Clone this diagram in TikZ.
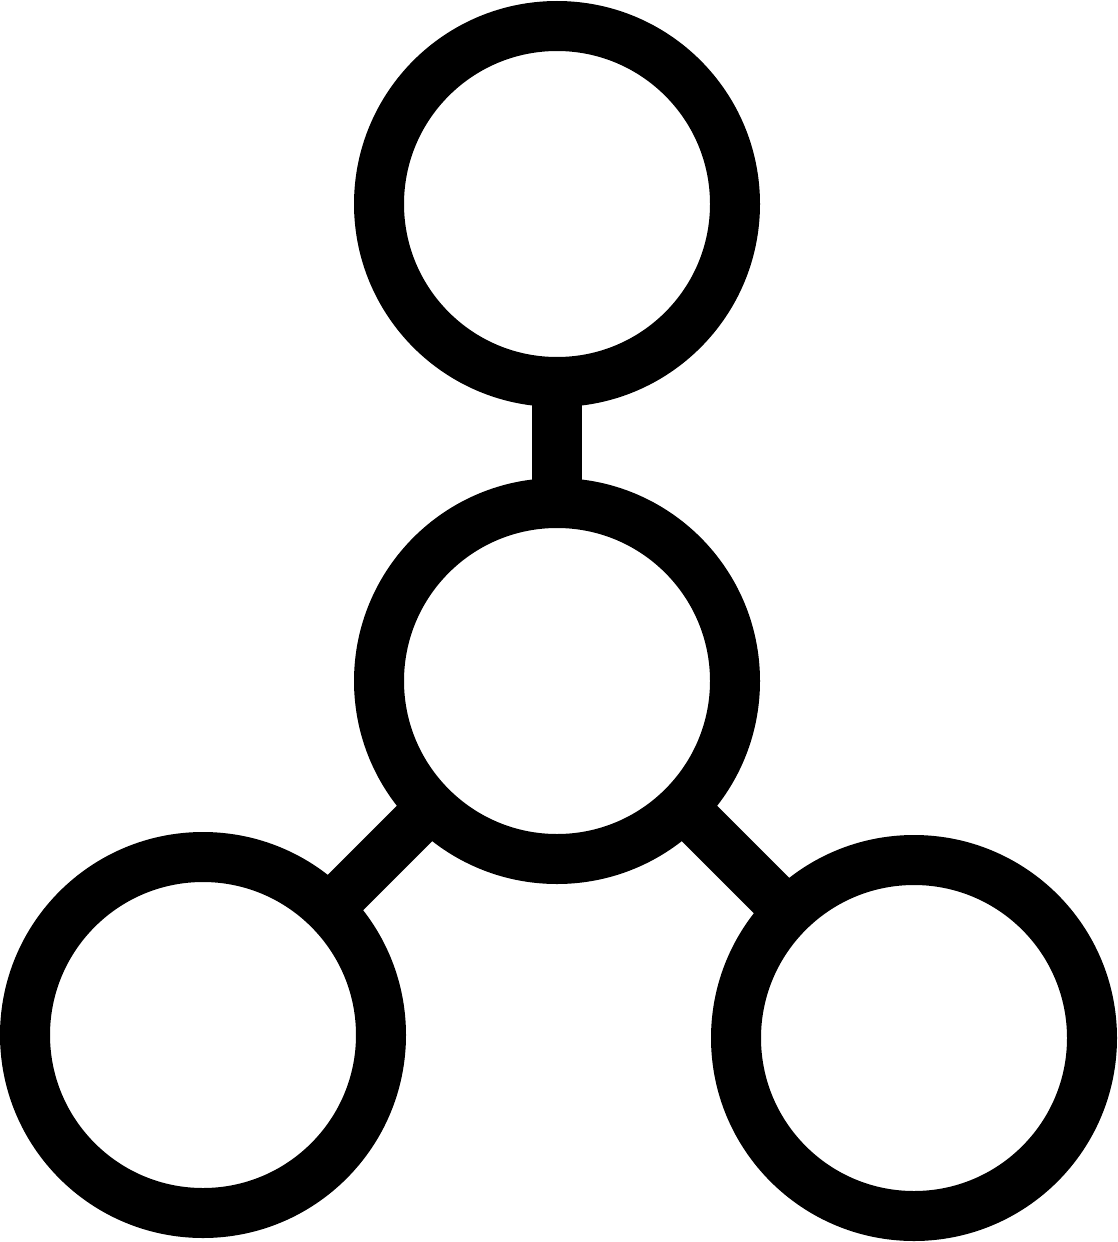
\documentclass[tikz,border=0pt]{standalone}
\usetikzlibrary{backgrounds}
\begin{document}
\begin{tikzpicture}[x=1pt,y=1pt,
  ring/.style={circle,draw=black,fill=white,line width=50pt,minimum size=356pt,inner sep=0pt},
  link/.style={draw=black,line width=50pt}]
\useasboundingbox (0,0) rectangle (1118,-1242);
\node[ring] (top) at (557,-204) {};
\node[ring] (mid) at (557,-681) {};
\node[ring] (bl) at (203,-1035) {};
\node[ring] (br) at (914,-1038) {};
\begin{scope}[on background layer]
\draw[link] (top.center) -- (mid.center);
\draw[link] (mid.center) -- (bl.center);
\draw[link] (mid.center) -- (br.center);
\end{scope}
\end{tikzpicture}
\end{document}
